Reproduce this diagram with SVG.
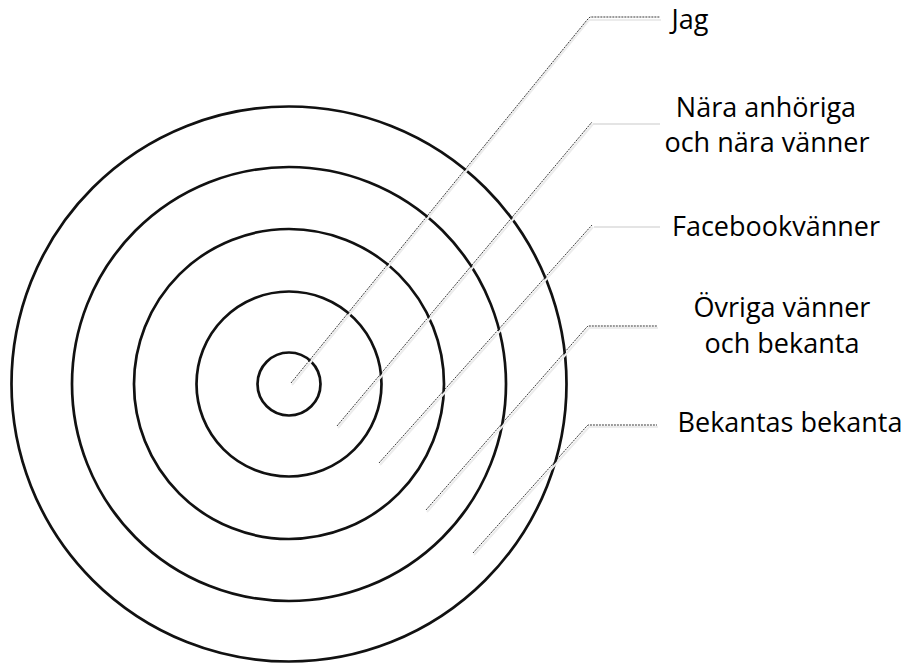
<svg xmlns="http://www.w3.org/2000/svg" width="909" height="664" viewBox="0 0 909 664">
<style>
.ring{fill:none;stroke:#111;stroke-width:2.7}
.lead{fill:none;stroke:#222;stroke-width:0.9;stroke-dasharray:2 1}
.shadow{fill:none;stroke:#ececec;stroke-width:2}
.faint{fill:none;stroke:#e4e4e4;stroke-width:2}
.lbl{font-family:"Open Sans","Noto Sans",sans-serif;font-size:27px;fill:#000;text-anchor:middle}
</style>
<rect width="909" height="664" fill="#fff"/>
<g id="rings">
<g id="ring-bekantas"><circle class="ring" cx="289" cy="384" r="277.5"/></g>
<g id="ring-ovriga"><circle class="ring" cx="289" cy="384" r="217"/></g>
<g id="ring-facebook"><circle class="ring" cx="289" cy="384" r="155"/></g>
<g id="ring-nara"><circle class="ring" cx="289" cy="384" r="92.5"/></g>
<g id="ring-jag"><circle class="ring" cx="289" cy="384" r="31.5"/></g>
</g>
<g id="connectors">
<polyline class="shadow" points="292,385 589,20 661,20"/>
<polyline class="lead" points="291,383 587,20 590,17 660,17"/>
<polyline class="shadow" points="338,428 593,124"/>
<polyline class="lead" points="337,426 592,122"/>
<line class="faint" x1="593" y1="124" x2="660" y2="124"/>
<polyline class="shadow" points="380,465 593,227"/>
<polyline class="lead" points="379,463 592,225"/>
<line class="faint" x1="594" y1="227" x2="660" y2="227"/>
<polyline class="shadow" points="427,512 589,328 658,328"/>
<polyline class="lead" points="426,510 586,328 588,326 657,326"/>
<polyline class="shadow" points="474,555 589,427 658,427"/>
<polyline class="lead" points="473,553 586,427 588,425 657,425"/>
</g>
<g id="label-jag"><text class="lbl" x="690" y="29">Jag</text></g>
<g id="label-nara"><text class="lbl" x="766" y="117">Nära anhöriga</text><text class="lbl" x="767" y="152">och nära vänner</text></g>
<g id="label-facebook"><text class="lbl" x="776" y="236">Facebookvänner</text></g>
<g id="label-ovriga"><text class="lbl" x="782" y="317">Övriga vänner</text><text class="lbl" x="782" y="353">och bekanta</text></g>
<g id="label-bekantas"><text class="lbl" x="790" y="432">Bekantas bekanta</text></g>
</svg>
